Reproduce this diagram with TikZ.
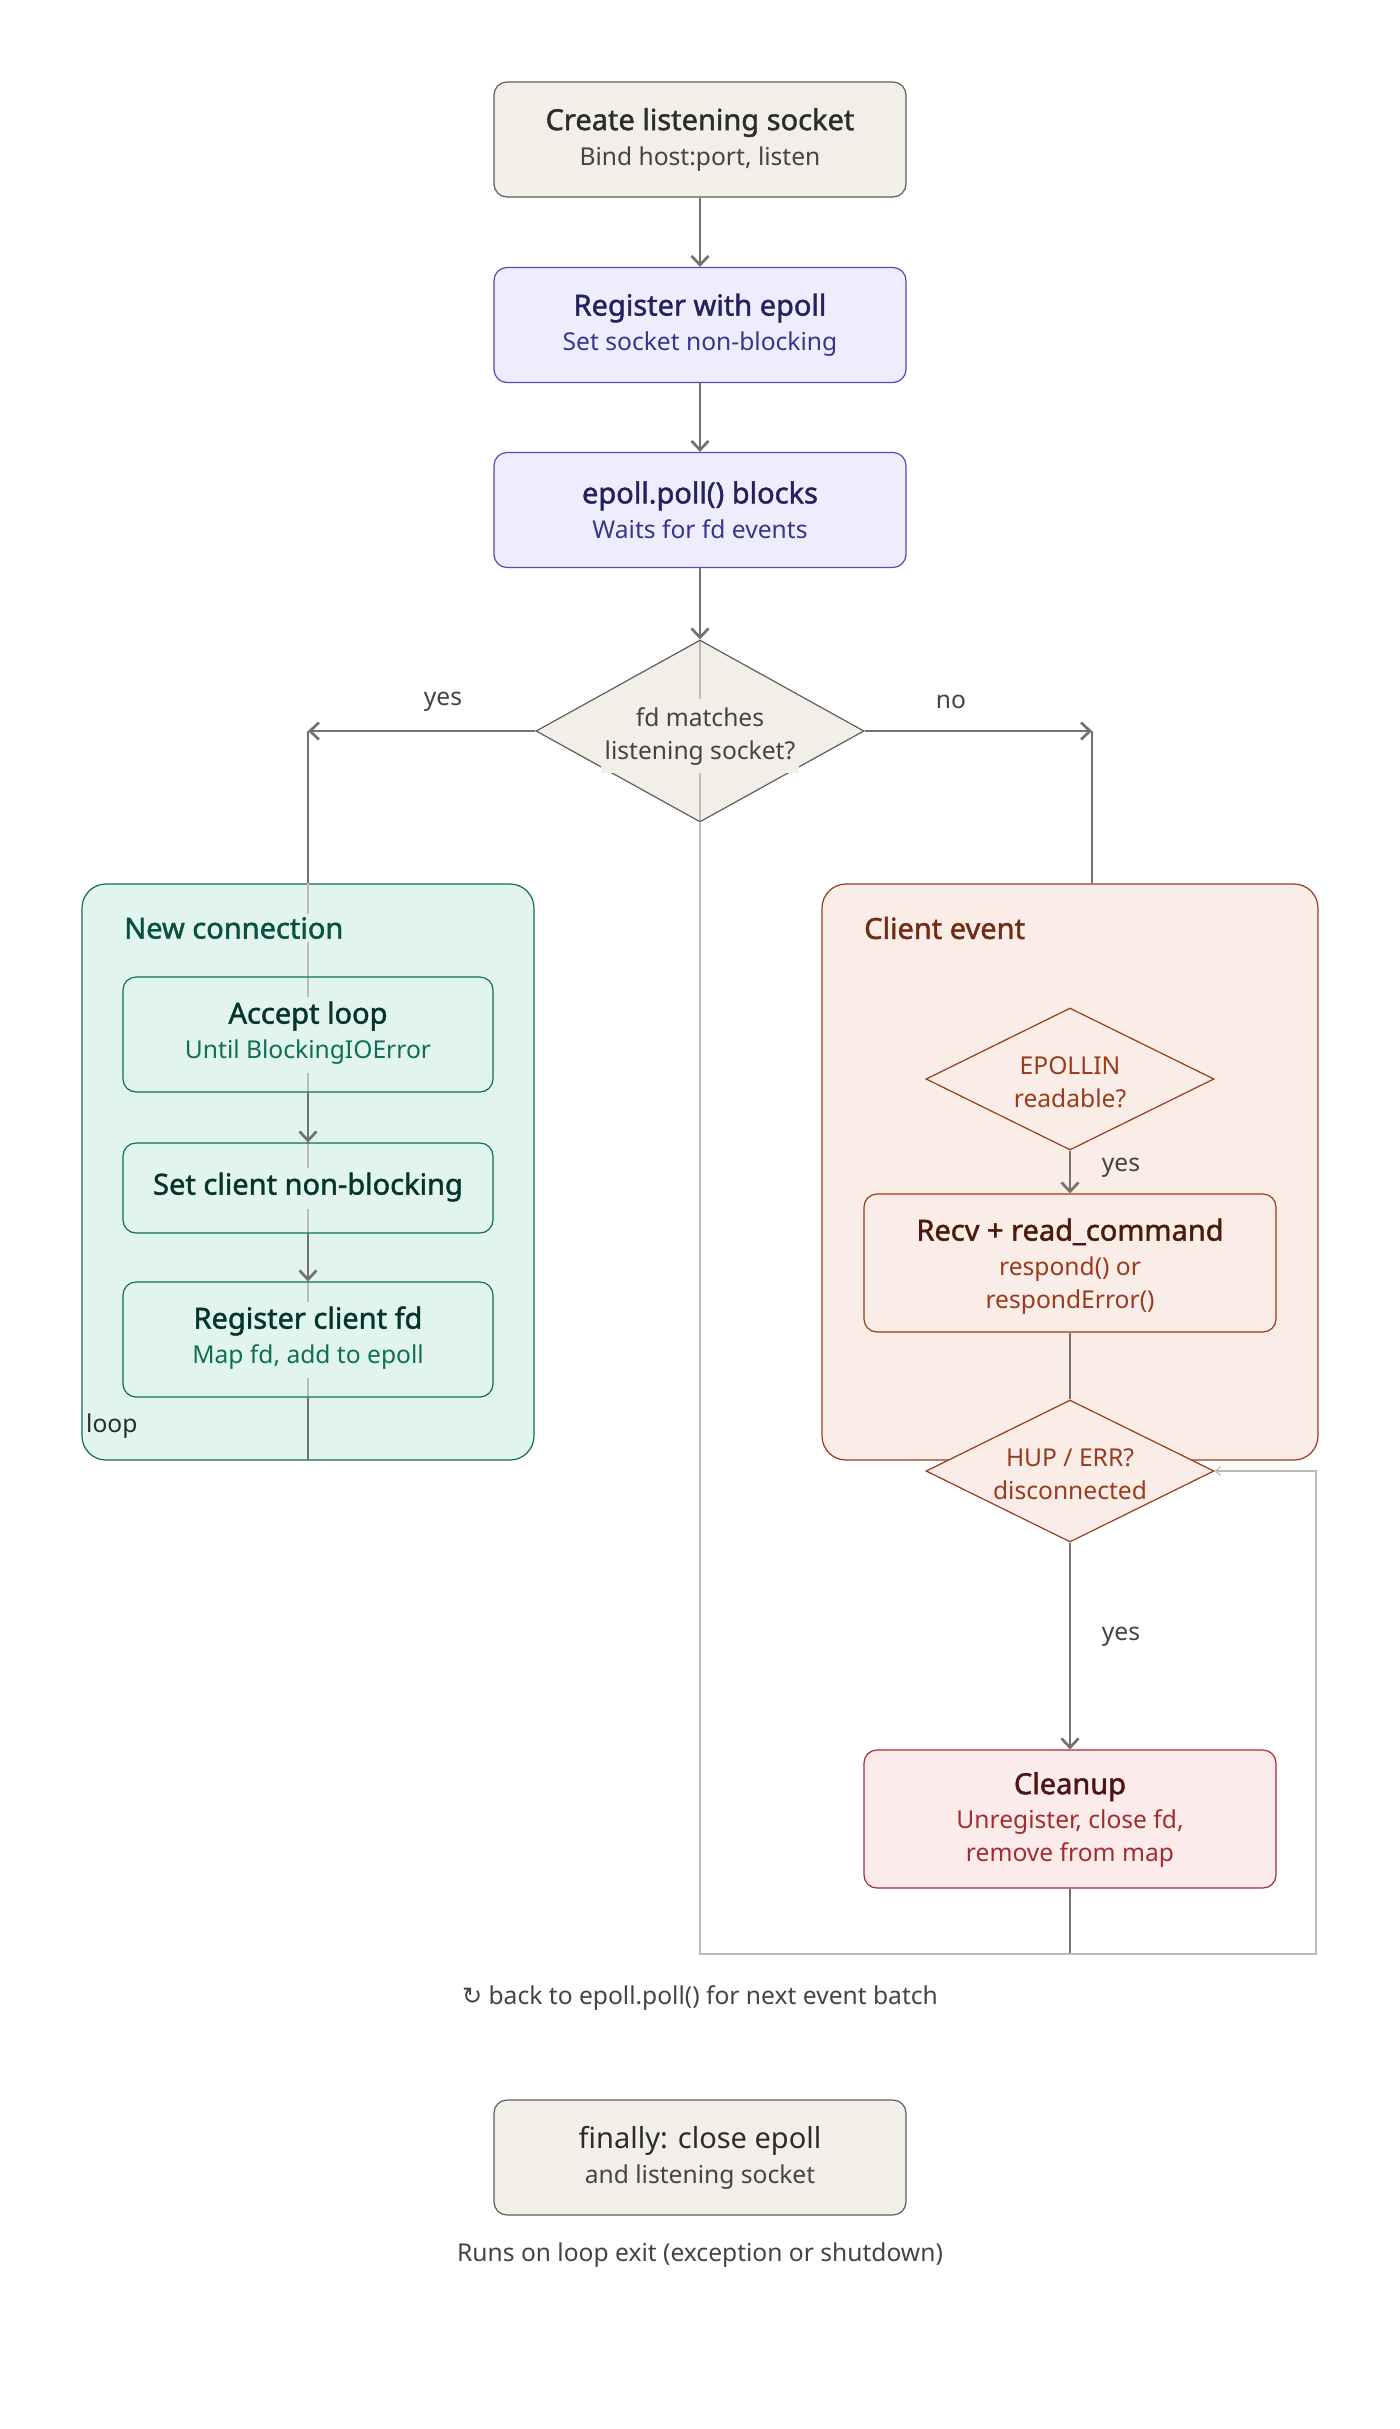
\documentclass[tikz,border=0pt]{standalone}
\usepackage{fontspec}
\setmainfont{Noto Sans}
\newfontfamily\bff{Noto Sans}[FakeBold=1.5]
\newfontfamily\symfont{DejaVu Sans}
\usetikzlibrary{shapes.geometric,arrows.meta}
\definecolor{nfill}{HTML}{F1EFE8}\definecolor{nborder}{HTML}{5F5E5A}
\definecolor{ntitle}{HTML}{2C2C2A}\definecolor{nsub}{HTML}{444441}
\definecolor{pfill}{HTML}{EEEDFE}\definecolor{pborder}{HTML}{534AB7}
\definecolor{ptitle}{HTML}{26215C}\definecolor{psub}{HTML}{3C3489}
\definecolor{gfill}{HTML}{E1F5EE}\definecolor{gborder}{HTML}{0F6E56}
\definecolor{gtitle}{HTML}{04342C}\definecolor{gsub}{HTML}{0F6E56}\definecolor{gctitle}{HTML}{085041}
\definecolor{cfill}{HTML}{FAECE7}\definecolor{cborder}{HTML}{993C1D}
\definecolor{ctitle}{HTML}{4A1B0C}\definecolor{csub}{HTML}{993C1D}\definecolor{cctitle}{HTML}{712B13}
\definecolor{rfill}{HTML}{FCEBEB}\definecolor{rborder}{HTML}{A32D2D}
\definecolor{rtitle}{HTML}{501313}\definecolor{rsub}{HTML}{A32D2D}
\definecolor{edge}{HTML}{73726C}\definecolor{faintc}{HTML}{BDBBB3}
\newcommand\tsz{\fontsize{29}{34}\selectfont}
\newcommand\ssz{\fontsize{24.6}{33}\selectfont}
\newcommand\kb[2]{{\setlength\fboxsep{4pt}\colorbox{#1}{\begin{tabular}{@{}c@{}}#2\end{tabular}}}}
\newcommand\lowr[2]{\raisebox{-#1}[\height][\depth]{\begin{tabular}{@{}c@{}}#2\end{tabular}}}
\tikzset{
  conn/.style={draw=edge, line width=2.7pt},
  arr/.style={conn, -{Straight Barb[length=9pt,width=17pt]}},
  faint/.style={draw=faintc, line width=1.3pt},
  thread/.style={path picture={\draw[faint] (path picture bounding box.north) -- (path picture bounding box.south);}},
  box/.style={rectangle, rounded corners=13pt, line width=1.2pt, minimum width=412pt, minimum height=115pt, inner sep=0pt, align=center, font=\ssz},
  nbox/.style={box, fill=nfill, draw=nborder, text=ntitle},
  pbox/.style={box, fill=pfill, draw=pborder, text=ptitle},
  gbox/.style={box, fill=gfill, draw=gborder, text=gtitle, minimum width=370pt, thread},
  cbox/.style={box, fill=cfill, draw=cborder, text=ctitle, minimum height=138pt},
  rbox/.style={box, fill=rfill, draw=rborder, text=rtitle, minimum height=138pt},
  cont/.style={rectangle, rounded corners=24pt, line width=1.2pt, inner sep=0pt, minimum width=#1, minimum height=576pt},
  dia/.style={diamond, aspect=1.8, inner xsep=-15pt, inner ysep=-10pt, line width=1.2pt, align=center, font=\ssz},
  lbl/.style={font=\ssz, text=nsub, inner sep=0pt},
}
\begin{document}
\begin{tikzpicture}[x=1pt,y=-1pt]
\useasboundingbox (0,0) rectangle (1400,2429);
\fill[white] (0,0) rectangle (1400,2429);

% top chain
\node[nbox] (create) at (700,139.5) {{\tsz\bff Create listening socket}\\[2pt]{\color{nsub}Bind host:port, listen}};
\node[pbox] (reg) at (700,325) {{\tsz\bff Register with epoll}\\[2pt]{\color{psub}Set socket non-blocking}};
\node[pbox] (poll) at (700,510) {{\tsz\bff epoll.poll() blocks}\\[2pt]{\color{psub}Waits for fd events}};
\node[dia, fill=nfill, draw=nborder, text=nsub, minimum width=328pt, minimum height=182pt, thread] (fd) at (700,731)
  {\raisebox{-5pt}[\height][\depth]{\kb{nfill}{fd matches\\listening socket?}}};

\coordinate (yc) at (308,731);
\coordinate (nc) at (1092,731);

% New connection container
\node[cont=452pt, fill=gfill, draw=gborder] (newconn) at (308,1172) {};
\draw[faint] (newconn.north) -- (newconn.south);
\node[anchor=west, fill=gfill, inner sep=3pt, text=gctitle, font=\tsz\bff] (nctitle) at (121,928) {New connection};
\node[gbox] (acc) at (308,1034.5) {\kb{gfill}{{\tsz\bff Accept loop}\\[2pt]{\color{gsub}Until BlockingIOError}}};
\node[gbox, minimum height=90pt] (setc) at (308,1188) {\kb{gfill}{{\tsz\bff Set client non-blocking}}};
\node[gbox] (regc) at (308,1339.5) {\kb{gfill}{{\tsz\bff Register client fd}\\[2pt]{\color{gsub}Map fd, add to epoll}}};
\node[anchor=west, font=\ssz, text=ntitle, inner sep=0pt] (looplbl) at (86,1426) {loop};

% Client event container
\node[cont=496pt, fill=cfill, draw=cborder] (client) at (1070,1172) {};
\node[anchor=west, inner sep=3pt, text=cctitle, font=\tsz\bff] (cetitle) at (861,928) {Client event};
\node[dia, fill=cfill, draw=cborder, text=csub, minimum width=288pt, minimum height=142pt] (epin) at (1070,1079) {\lowr{5pt}{EPOLLIN\\readable?}};
\node[cbox] (recv) at (1070,1263) {\lowr{5pt}{{\tsz\bff Recv + read\_command}\\[2pt]{\color{csub}respond() or}\\{\color{csub}respondError()}}};
\node[dia, fill=cfill, draw=cborder, text=csub, minimum width=288pt, minimum height=142pt] (hup) at (1070,1471) {\lowr{5pt}{HUP / ERR?\\disconnected}};

\node[rbox] (clean) at (1070,1819) {\lowr{2pt}{{\tsz\bff Cleanup}\\[1pt]{\color{rsub}Unregister, close fd,}\\{\color{rsub}remove from map}}};

\coordinate (lb) at (700,1954);
\coordinate (rb) at (1316,1954);
\coordinate (rt) at (1316,1471);
\coordinate (cb) at (1070,1954);

% connectors
\draw[arr] (create.south) -- (reg.north);
\draw[arr] (reg.south) -- (poll.north);
\draw[arr] (poll.south) -- (fd.north);
\draw[arr] (fd.west) -- (yc);
\draw[conn] (yc) -- (newconn.north);
\draw[arr] (fd.east) -- (nc);
\draw[conn] (nc) -- (nc |- client.north);
\draw[arr] (acc.south) -- (setc.north);
\draw[arr] (setc.south) -- (regc.north);
\draw[conn] (regc.south) -- (newconn.south);
\draw[arr] (epin.south) -- (recv.north);
\draw[conn] (recv.south) -- (hup.north);
\draw[arr] (hup.south) -- (clean.north);
\draw[conn] (clean.south) -- (cb);
\draw[faint, -{Straight Barb[length=5pt,width=9pt]}] (fd.south) -- (lb) -- (rb) -- (rt) -- (hup.east);

% labels
\node[lbl] (lyes1) at (443,702) {yes};
\node[lbl] (lno) at (951,702) {no};
\node[lbl] (lyes2) at (1121,1168) {yes};
\node[lbl] (lyes3) at (1121,1637) {yes};

\node[lbl] (back) at (700,1998) {{\symfont\fontsize{24}{26}\selectfont ↻} back to epoll.poll() for next event batch};
\node[nbox] (fin) at (700,2157.5) {{\tsz finally: close epoll}\\[2pt]{\color{nsub}and listening socket}};
\node[lbl] (runs) at (700,2255) {Runs on loop exit (exception or shutdown)};
\end{tikzpicture}
\end{document}
